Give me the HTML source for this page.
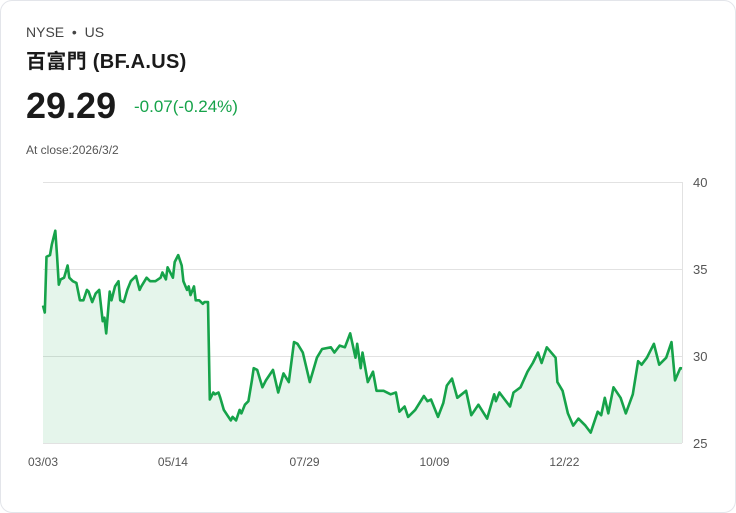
<!DOCTYPE html>
<html><head><meta charset="utf-8"><style>
html,body{margin:0;padding:0;background:#fff;}
body{width:736px;height:513px;overflow:hidden;font-family:"Liberation Sans","Noto Sans CJK TC",sans-serif;}
.card{position:absolute;left:0;top:0;width:734px;height:511px;border:1px solid #e3e5ea;border-radius:12px;background:#fff;}
.t{position:absolute;white-space:nowrap;}
</style></head><body>
<div class="card">
<div class="t" style="left:25px;top:23px;font-size:14px;color:#444;">NYSE &nbsp;•&nbsp; US</div>
<div class="t" style="left:25px;top:44px;font-size:20px;font-weight:bold;color:#1a1a1a;letter-spacing:0.3px;">百富門 (BF.A.US)</div>
<div class="t" style="left:25px;top:84px;font-size:36px;font-weight:bold;color:#1a1a1a;">29.29</div>
<div class="t" style="left:133px;top:96px;font-size:17px;color:#16a34a;">-0.07(-0.24%)</div>
<div class="t" style="left:25px;top:142px;font-size:12px;color:#555;">At close:2026/3/2</div>
<svg id="chart" width="736" height="513" style="position:absolute;left:-1px;top:-1px;"></svg>
</div>
<script>
const days=[0,1,2,4,5,7,8,9,10,12,14,15,17,19,21,23,25,26,28,30,32,34,35,36,38,39,41,43,44,46,48,50,51,53,55,56,59,61,64,67,68,70,71,74,75,77,79,80,82,83,84,86,87,89,91,92,94,95,97,98,100,101,103,105,107,108,110,112,113,115,117,119,120,122,125,127,131,134,137,140,143,145,148,152,156,159,164,166,169,172,175,178,179,181,182,185,188,190,194,198,201,203,206,208,212,217,219,221,225,228,230,233,236,241,244,248,253,257,258,260,263,266,268,272,276,279,282,284,287,292,293,296,299,302,305,309,312,316,318,320,322,325,329,332,336,339,341,344,348,351,355,358,360,363,364];
const prices=[32.9,32.5,35.7,35.8,36.4,37.2,35.8,34.1,34.4,34.5,35.2,34.5,34.3,34.2,33.2,33.2,33.8,33.7,33.1,33.6,33.8,32.0,32.2,31.3,33.7,33.2,34.0,34.3,33.2,33.1,33.8,34.3,34.4,34.6,33.8,34.0,34.5,34.3,34.3,34.5,34.8,34.4,35.1,34.5,35.4,35.8,35.2,34.3,33.8,34.0,33.5,34.0,33.2,33.2,33.0,33.1,33.1,27.5,27.9,27.8,27.9,27.6,26.9,26.6,26.3,26.5,26.3,26.9,26.7,27.2,27.4,28.6,29.3,29.2,28.2,28.6,29.2,27.9,29.0,28.5,30.8,30.7,30.2,28.5,29.9,30.4,30.5,30.2,30.6,30.5,31.3,29.9,30.7,29.3,30.2,28.5,29.1,28.0,28.0,27.8,27.9,26.8,27.1,26.5,26.9,27.7,27.4,27.5,26.5,27.3,28.3,28.7,27.6,28.0,26.6,27.2,26.4,27.8,27.4,27.9,27.5,27.1,27.9,28.2,29.1,29.6,30.2,29.6,30.5,29.9,28.5,28.0,26.7,26.0,26.4,26.0,25.6,26.8,26.6,27.6,26.7,28.2,27.6,26.7,27.8,29.7,29.5,29.9,30.7,29.5,29.9,30.8,28.6,29.3,29.29];
const yTicks=[25,30,35,40];
const xTickDays=[0,74,149,223,297];
const xTickLabels=["03/03","05/14","07/29","10/09","12/22"];
const NS="http://www.w3.org/2000/svg";
const svg=document.getElementById('chart');
const X0=43,X1=682,Y0=443,Y1=182,DMAX=364,VMIN=25,VMAX=40;
const xs=d=>X0+(d/DMAX)*(X1-X0);
const ys=v=>Y0-(v-VMIN)/(VMAX-VMIN)*(Y0-Y1);
function mk(tag,attrs){const e=document.createElementNS(NS,tag);for(const k in attrs)e.setAttribute(k,attrs[k]);svg.appendChild(e);return e;}
yTicks.forEach(v=>{
  const l=mk('line',{x1:X0,x2:X1,y1:ys(v)+0.5,y2:ys(v)+0.5,stroke:'#e2e2e2','stroke-width':1});
  
  
  const t=mk('text',{x:693,y:ys(v)+5,'font-size':13,fill:'#555','font-family':'Liberation Sans, sans-serif'});
  t.textContent=v;
  
  
});
const vl=mk('line',{x1:X1+0.5,x2:X1+0.5,y1:Y1,y2:Y0,stroke:'#e2e2e2','stroke-width':1});


xTickDays.forEach((d,i)=>{
  const t=mk('text',{x:xs(d),y:466,'font-size':12,fill:'#555','text-anchor':'middle','font-family':'Liberation Sans, sans-serif'});
  t.textContent=xTickLabels[i];
  
  
});
let p='';days.forEach((d,i)=>{p+=(i?'L':'M')+xs(d).toFixed(1)+','+ys(prices[i]).toFixed(1);});
const area=mk('path',{d:p+'L'+xs(days[days.length-1])+','+Y0+'L'+xs(days[0])+','+Y0+'Z',fill:'#16a34a','fill-opacity':0.11});


const line=mk('path',{d:p,fill:'none',stroke:'#16a34a','stroke-width':2.6,'stroke-linejoin':'round'});


</script>
</body></html>
